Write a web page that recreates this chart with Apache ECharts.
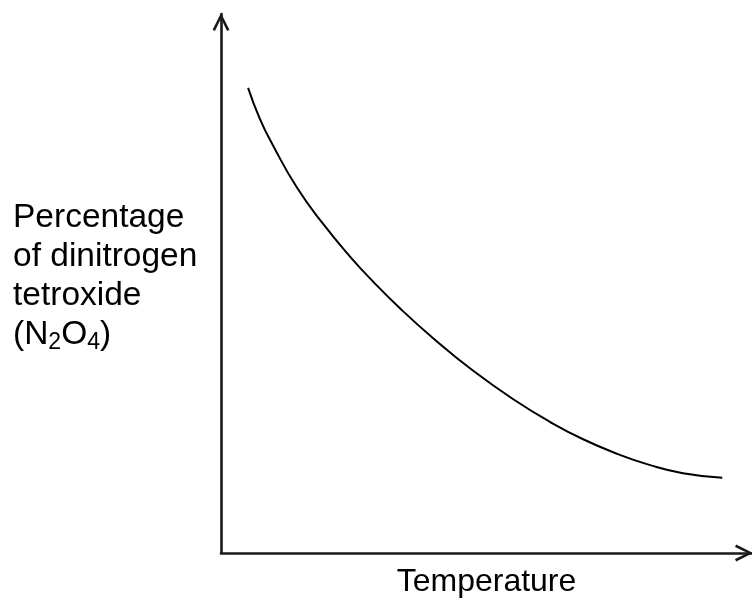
<!DOCTYPE html>
<html>
<head>
<meta charset="utf-8">
<script src="https://cdn.jsdelivr.net/npm/echarts@6/dist/echarts.min.js"></script>
<style>html,body{margin:0;padding:0;background:#fff}#c{width:752px;height:604px}</style>
</head>
<body>
<div id="c"></div>
<script>
// Temperature (arbitrary units, axis 0..100)
const temperature = [5.1, 7.3, 9.8, 14.3, 19.2, 24.3, 28.6, 33.7, 39.9, 47.5, 55.7, 62.0, 68.2, 74.6, 80.8, 87.0, 94.4];
// Percentage of N2O4 (arbitrary units, axis 0..100)
const percentN2O4 = [86.3, 80.6, 75.6, 67.8, 61.1, 55.0, 50.4, 45.4, 39.9, 33.8, 28.1, 24.3, 21.1, 18.4, 16.3, 14.8, 13.95];
const xAxisName = 'Temperature';
const yAxisLines = ['Percentage', 'of dinitrogen', 'tetroxide'];

const chart = echarts.init(document.getElementById('c'), null, {renderer: 'canvas'});
const chevron = 'path://M0,10 L5,0 L10,10 L8.6,10.7 L5,3.2 L1.4,10.7 Z';
const font = 'Liberation Sans, Arial, sans-serif';
const axisLine = {show: true, lineStyle: {color: '#1a1a1a', width: 2.6}, symbol: ['none', chevron], symbolSize: [28, 18], symbolOffset: [0, -8]};
chart.setOption({
  animation: false,
  backgroundColor: '#fff',
  grid: {left: 221, right: 0, top: 14, bottom: 51, containLabel: false},
  xAxis: {
    type: 'value', min: 0, max: 100,
    axisLine: axisLine,
    axisTick: {show: false}, axisLabel: {show: false}, splitLine: {show: false},
    name: xAxisName, nameLocation: 'middle', nameGap: 13,
    nameTextStyle: {fontFamily: font, fontSize: 32, color: '#000', verticalAlign: 'top'}
  },
  yAxis: {
    type: 'value', min: 0, max: 100,
    axisLine: axisLine,
    axisTick: {show: false}, axisLabel: {show: false}, splitLine: {show: false}
  },
  graphic: [{
    type: 'text', left: 13, top: 198,
    style: {
      text: yAxisLines.join('\n') + '\n{n|(N}{s|2}{n|O}{s|4}{n|)}',
      font: '33.5px ' + font, fill: '#000', lineHeight: 39,
      rich: {
        n: {fontFamily: font, fontSize: 33.5, lineHeight: 39, fill: '#000'},
        s: {fontFamily: font, fontSize: 23, lineHeight: 16, verticalAlign: 'bottom', fill: '#000'}
      }
    }
  }],
  series: [{
    type: 'line', data: temperature.map((t, i) => [t, percentN2O4[i]]),
    smooth: true, showSymbol: false, symbol: 'none',
    lineStyle: {color: '#000', width: 2}
  }]
});
</script>
</body>
</html>
